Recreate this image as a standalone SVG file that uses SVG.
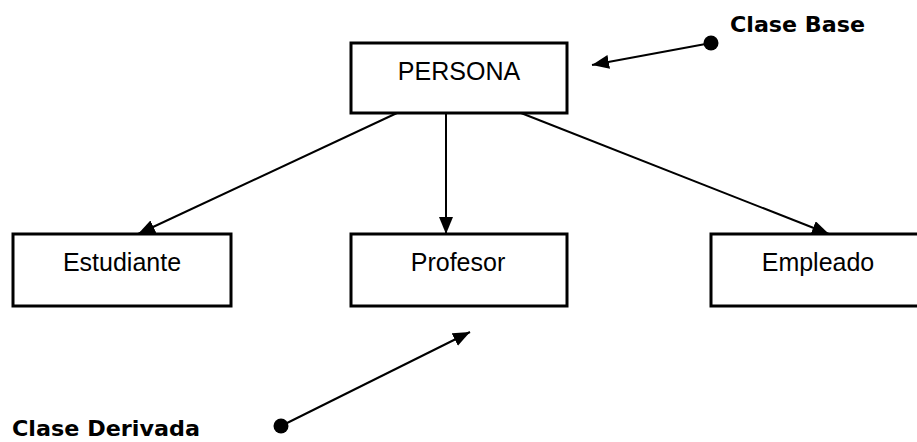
<svg xmlns="http://www.w3.org/2000/svg" width="917" height="442" viewBox="0 0 917 442">
  <style>
    .box { fill: #fff; stroke: #000; stroke-width: 3; }
    .lbl { font-family: "Liberation Sans", Arial, sans-serif; font-size: 25px; fill: #000; text-anchor: middle; }
    .note { font-family: "DejaVu Sans", sans-serif; font-weight: bold; font-size: 22px; fill: #000; }
    .edge { stroke: #000; stroke-width: 2; fill: none; marker-end: url(#tip); }
    .dot { fill: #000; }
  </style>
  <defs>
    <marker id="tip" markerUnits="userSpaceOnUse" markerWidth="18" markerHeight="14" refX="17" refY="7" orient="auto">
      <path d="M0,0 L17,7 L0,14 Z" fill="#000"/>
    </marker>
  </defs>

  <!-- inheritance connectors -->
  <g id="connectors">
    <line class="edge" x1="397" y1="113" x2="138" y2="234"/>
    <line class="edge" x1="446" y1="113" x2="446" y2="234"/>
    <line class="edge" x1="521" y1="113" x2="829" y2="234"/>
    <line class="edge" x1="711" y1="43" x2="592" y2="65"/>
    <line class="edge" x1="281" y1="426" x2="470" y2="332"/>
  </g>

  <g id="persona">
    <rect class="box" x="351" y="43" width="216" height="70"/>
    <text class="lbl" x="459" y="80">PERSONA</text>
  </g>

  <g id="estudiante">
    <rect class="box" x="13" y="234" width="218" height="72"/>
    <text class="lbl" x="122" y="271">Estudiante</text>
  </g>

  <g id="profesor">
    <rect class="box" x="351" y="234" width="216" height="72"/>
    <text class="lbl" x="458" y="271">Profesor</text>
  </g>

  <g id="empleado">
    <rect class="box" x="711" y="234" width="216" height="72"/>
    <text class="lbl" x="818" y="271">Empleado</text>
  </g>

  <g id="clase-base">
    <circle class="dot" cx="711" cy="43" r="7.5"/>
    <text class="note" x="730" y="32" textLength="135" lengthAdjust="spacingAndGlyphs">Clase Base</text>
  </g>

  <g id="clase-derivada">
    <circle class="dot" cx="281" cy="426" r="7.5"/>
    <text class="note" x="12" y="436" textLength="188" lengthAdjust="spacingAndGlyphs">Clase Derivada</text>
  </g>
</svg>
